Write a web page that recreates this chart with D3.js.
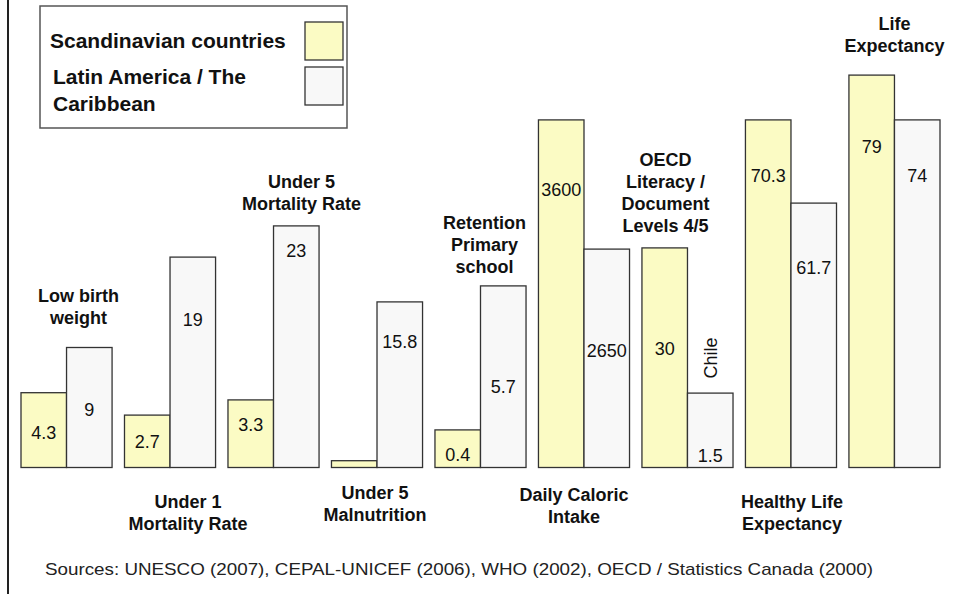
<!DOCTYPE html>
<html>
<head>
<meta charset="utf-8">
<script src="https://cdn.jsdelivr.net/npm/d3@7"></script>
<style>
  body { margin: 0; background: #fff; }
  svg { display: block; font-family: "Liberation Sans", Arial, sans-serif; }
</style>
</head>
<body>
<svg id="chart" width="954" height="594"></svg>
<script>
// Indicators, in the order they are drawn (label lines as printed)
const categoryLines = [
    ["Low birth", "weight"],
    ["Under 1", "Mortality Rate"],
    ["Under 5", "Mortality Rate"],
    ["Under 5", "Malnutrition"],
    ["Retention", "Primary", "school"],
    ["Daily Caloric", "Intake"],
    ["OECD", "Literacy /", "Document", "Levels 4/5"],
    ["Healthy Life", "Expectancy"],
    ["Life", "Expectancy"]
];

const seriesNames = ["Scandinavian countries", "Latin America / The Caribbean"];

// Printed values (null = no value printed)
const scandiValues = [4.3, 2.7, 3.3, null, 0.4, 3600, 30, 70.3, 79];
const latamValues = [9, 19, 23, 15.8, 5.7, 2650, 1.5, 61.7, 74];
const latamNotes = ["", "", "", "", "", "", "Chile", "", ""];

// Drawn bar heights, each indicator has its own scale in the original,
// read off the picture on a common hidden 0-100 scale
const scandiLevel = [18.7, 13.1, 16.9, 1.7, 9.4, 86.9, 54.9, 86.9, 98.1];
const latamLevel = [30, 52.6, 60.4, 41.4, 45.4, 54.6, 18.6, 66.1, 86.9];

const sourceNote = "Sources: UNESCO (2007), CEPAL-UNICEF (2006), WHO (2002), OECD / Statistics Canada (2000)";

// ---- layout ----
const baseY = 467.5;
const colors = ["#fbfbc4", "#f8f8f8"];
const strokeColor = "#333";
// how far below the bar top each value label sits (px)
const scandiDrop = [40, 26, 25, 0, 25, 70, 101, 56, 71];
const latamDrop = [62, 62, 25, 40, 101, 101, 62, 64, 56];
// small nudges of the indicator labels [dx, dy]
const labelNudge = [[12, -6], [18, 4], [28, 2], [-2, -5], [4, 5], [-10, -3], [-22, 2], [1, 4], [0, -5]];

const svg = d3.select("#chart");

const x = d3.scaleBand()
    .domain(d3.range(categoryLines.length))
    .range([21, 940])
    .paddingInner(0.12)
    .paddingOuter(0);

const xs = d3.scaleBand()
    .domain([0, 1])
    .range([0, x.bandwidth()]);

const y = d3.scaleLinear()
    .domain([0, 100])
    .range([baseY, baseY - 400]);

// Left frame line
svg.append("line")
    .attr("x1", 8).attr("x2", 8)
    .attr("y1", 0).attr("y2", 594)
    .attr("stroke", "#222")
    .attr("stroke-width", 2);

// Build rows for bars
const rows = [];
categoryLines.forEach((lines, i) => {
    rows.push({ i, s: 0, level: scandiLevel[i], value: scandiValues[i], drop: scandiDrop[i], note: "" });
    rows.push({ i, s: 1, level: latamLevel[i], value: latamValues[i], drop: latamDrop[i], note: latamNotes[i] });
});

const bars = svg.append("g");

bars.selectAll("rect")
    .data(rows)
    .enter()
    .append("rect")
    .attr("x", d => x(d.i) + xs(d.s))
    .attr("y", d => y(d.level))
    .attr("width", xs.bandwidth())
    .attr("height", d => baseY - y(d.level))
    .attr("fill", d => colors[d.s])
    .attr("stroke", strokeColor)
    .attr("stroke-width", 1.3);

// Value labels inside bars
bars.selectAll(".val")
    .data(rows.filter(d => d.value != null))
    .enter()
    .append("text")
    .attr("class", "val")
    .attr("x", d => x(d.i) + xs(d.s) + xs.bandwidth() / 2)
    .attr("y", d => y(d.level) + d.drop)
    .attr("dy", "0.36em")
    .attr("text-anchor", "middle")
    .style("font-size", "18px")
    .attr("fill", "#111")
    .text(d => String(d.value));

// Notes above bars (rotated)
rows.filter(d => d.note).forEach(d => {
    const cx = x(d.i) + xs(d.s) + xs.bandwidth() / 2;
    const cy = y(d.level) - 35;
    bars.append("text")
        .attr("transform", `translate(${cx}, ${cy}) rotate(-90)`)
        .attr("text-anchor", "middle")
        .attr("dy", "0.36em")
        .style("font-size", "18px")
        .attr("fill", "#111")
        .text(d.note);
});

// Indicator labels: even ones above the bars, odd ones below the baseline
const lineH = 22;
categoryLines.forEach((lines, i) => {
    const cx = x(i) + x.bandwidth() / 2 + labelNudge[i][0];
    let firstY;
    if (i % 2 === 0) {
        const top = y(Math.max(scandiLevel[i], latamLevel[i]));
        firstY = top - 18 + labelNudge[i][1] - (lines.length - 1) * lineH;
    } else {
        firstY = baseY + 36 + labelNudge[i][1];
    }
    const t = svg.append("text")
        .attr("text-anchor", "middle")
        .style("font-size", "18px")
        .style("font-weight", "bold")
        .attr("fill", "#111");
    lines.forEach((ln, k) => {
        t.append("tspan")
            .attr("x", cx)
            .attr("y", firstY + k * lineH)
            .text(ln);
    });
});

// Legend
const legend = svg.append("g");
legend.append("rect")
    .attr("x", 40).attr("y", 6)
    .attr("width", 307).attr("height", 122)
    .attr("fill", "#fff")
    .attr("stroke", "#555")
    .attr("stroke-width", 1.5);

const legendText = [["Scandinavian countries"], ["Latin America / The", "Caribbean"]];
const legendY = [48, 84];
const legendX = [50, 53];
legendText.forEach((lines, s) => {
    legend.append("rect")
        .attr("x", 305).attr("y", 22 + s * 45)
        .attr("width", 38).attr("height", 38)
        .attr("fill", colors[s])
        .attr("stroke", strokeColor)
        .attr("stroke-width", 1.3);
    const t = legend.append("text")
        .style("font-size", "21px")
        .style("font-weight", "bold")
        .attr("fill", "#111");
    lines.forEach((ln, k) => {
        t.append("tspan")
            .attr("x", legendX[s])
            .attr("y", legendY[s] + k * 27)
            .text(ln);
    });
});

// Sources footnote (the original font is drawn a bit wide)
svg.append("text")
    .attr("x", 45)
    .attr("y", 575)
    .attr("textLength", 828)
    .attr("lengthAdjust", "spacingAndGlyphs")
    .style("font-size", "17px")
    .attr("fill", "#222")
    .text(sourceNote);
</script>
</body>
</html>
